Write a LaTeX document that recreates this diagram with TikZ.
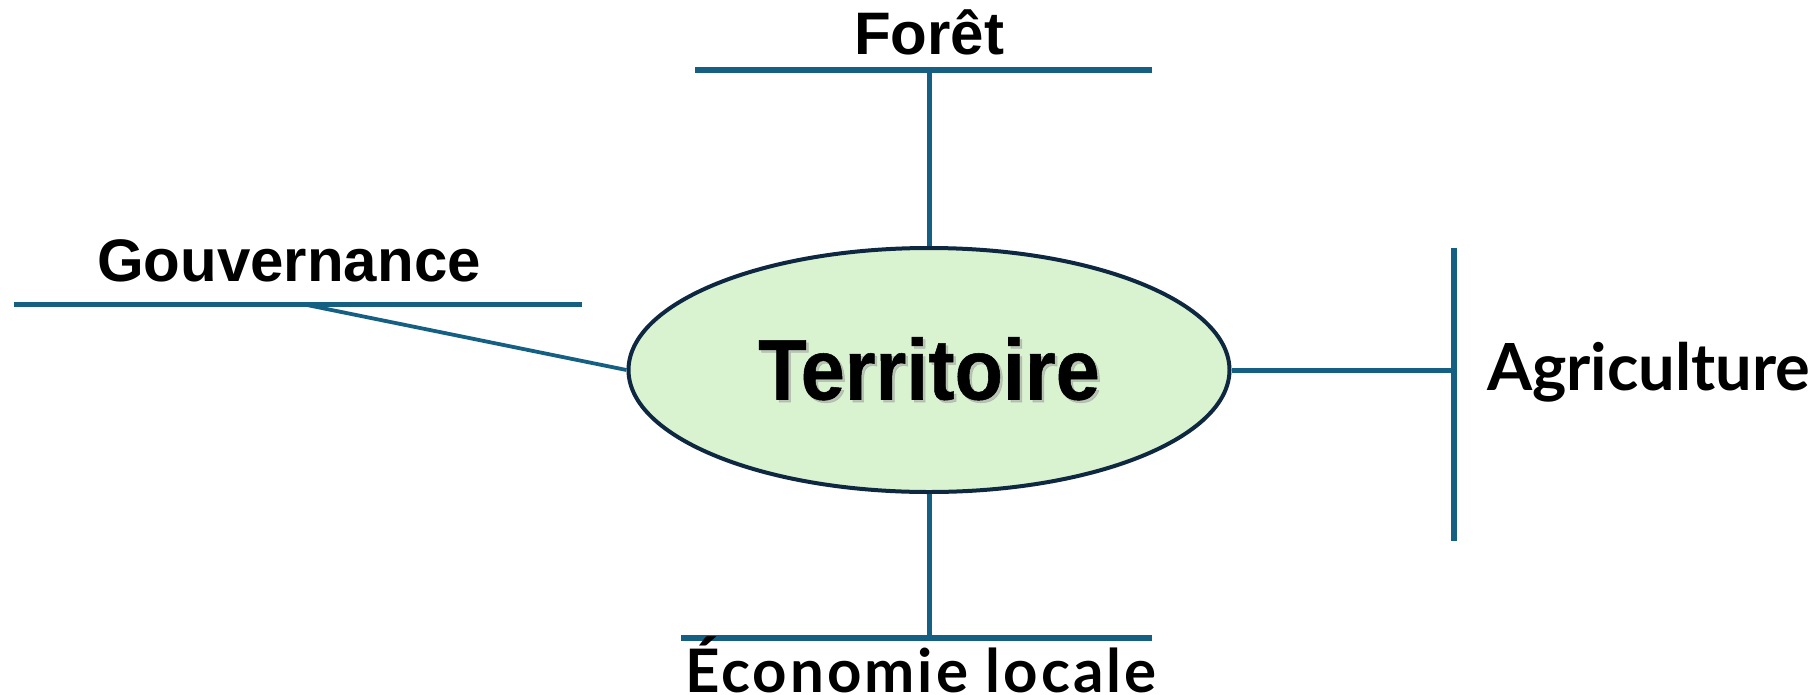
\documentclass[tikz,border=0pt]{standalone}
\usepackage{fontspec}
\usetikzlibrary{shapes.geometric}
\setmainfont{Liberation Sans}
\newfontfamily\aptosfont{Lato}
\newfontfamily\ecofont[LetterSpace=5]{Lato}
\newfontfamily\terrfont[FakeStretch=0.92,FakeBold=0.6]{Liberation Sans}
\definecolor{barblue}{HTML}{156082}
\definecolor{ellline}{HTML}{0E2841}
\definecolor{ellfill}{HTML}{D9F2D0}
\begin{document}
\begin{tikzpicture}[x=1pt,y=-1pt,
  bar/.style={draw=barblue,line width=5.5pt},
  link/.style={draw=barblue,line width=5pt},
  slink/.style={draw=barblue,line width=3.8pt},
  arlbl/.style={inner sep=0pt,font=\fontsize{60}{62}\selectfont\bfseries},
  aplbl/.style={inner sep=0pt,font=\fontsize{65}{67}\selectfont\aptosfont\bfseries},
  eclbl/.style={inner sep=0pt,font=\fontsize{60}{62}\selectfont\ecofont\bfseries},
  tlbl/.style={inner sep=0pt,font=\fontsize{86}{88}\selectfont\terrfont\bfseries}]
\useasboundingbox (0,0) rectangle (1816,694);
% central ellipse
\node[ellipse, draw=ellline, fill=ellfill, line width=4pt, minimum width=601pt, minimum height=244pt, inner sep=0pt] (terr) at (929,370) {};
\node[tlbl, anchor=base, text=black!40, opacity=0.5] (terrshadow) at (931.5,402) {Territoire};
\node[tlbl, anchor=base] (terrlabel) at (929,399.5) {Territoire};
% Forêt
\coordinate (fl) at (695,70);
\coordinate (fr) at (1152,70);
\coordinate (fm) at (929,70);
\draw[bar] (fl) -- (fr);
\draw[link] (terr.north) -- (fm);
\node[arlbl, anchor=base] (foret) at (929,54) {Forêt};
% Gouvernance
\coordinate (gl) at (14,304.5);
\coordinate (gr) at (582,304.5);
\coordinate (gm) at (307,305);
\draw[bar] (gl) -- (gr);
\draw[slink] (gm) -- (terr.west);
\node[arlbl, anchor=base] (gouv) at (289,281) {Gouvernance};
% Agriculture
\coordinate (at) at (1454,248);
\coordinate (ab) at (1454,541);
\coordinate (am) at (1454,370);
\draw[bar] (at) -- (ab);
\draw[link] (terr.east) -- (am);
\node[aplbl, anchor=base west] (agri) at (1487,390) {Agriculture};
% Économie locale
\coordinate (el) at (681,638);
\coordinate (er) at (1152,638);
\coordinate (em) at (929,638);
\draw[bar] (el) -- (er);
\draw[link] (terr.south) -- (em);
\node[eclbl, anchor=base west] (eco) at (685,692) {Économie locale};
\end{tikzpicture}
\end{document}
